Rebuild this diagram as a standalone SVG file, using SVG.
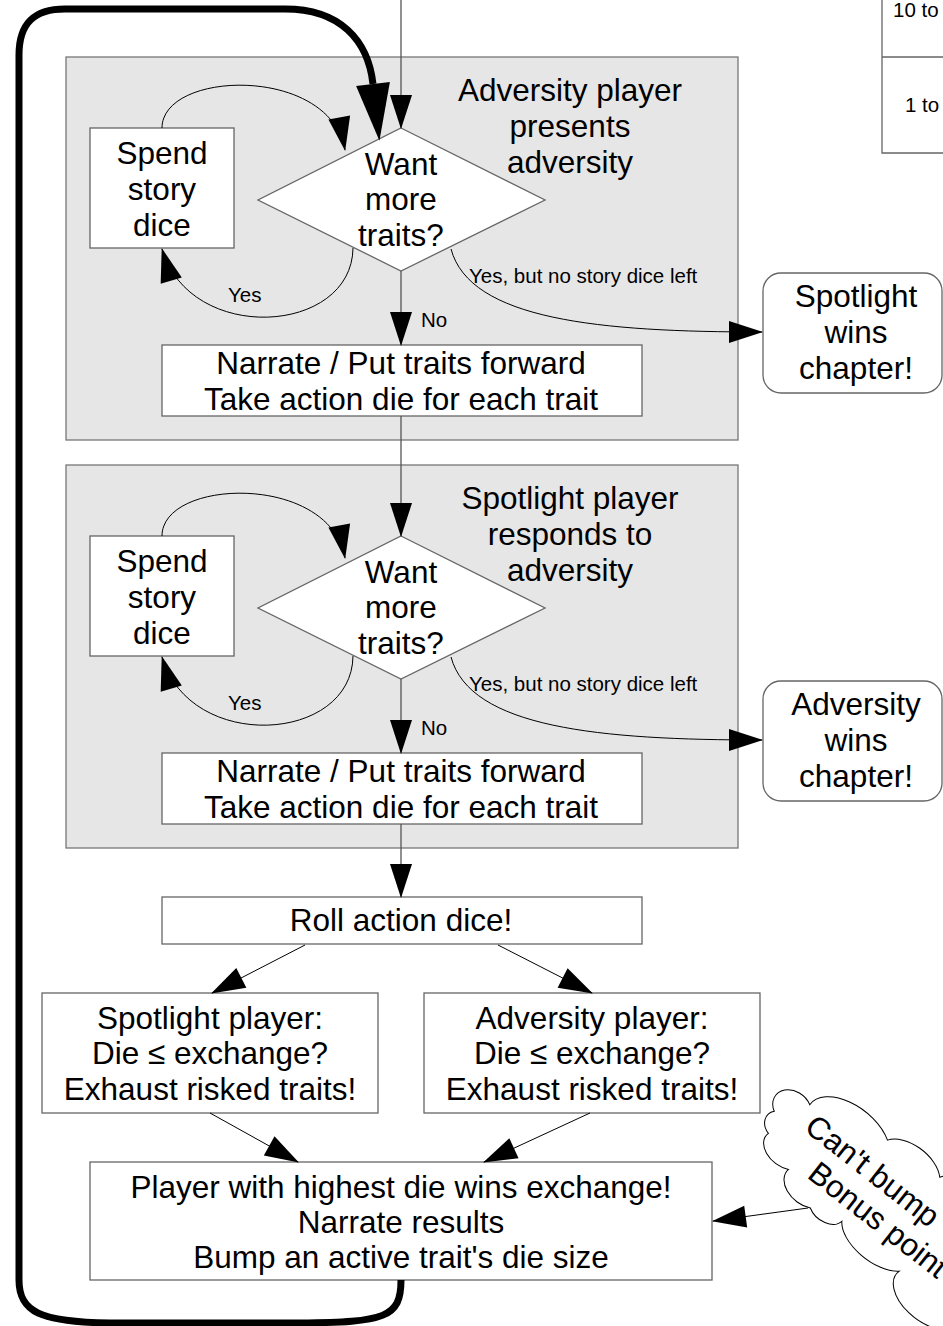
<svg xmlns="http://www.w3.org/2000/svg" width="943" height="1326" viewBox="0 0 943 1326">
<style>
.box{fill:#fff;stroke:#666;stroke-width:1.3}
.panel{fill:#e6e6e6;stroke:#777;stroke-width:1.3}
.t{font-family:"Liberation Sans",Arial,sans-serif;font-size:31.5px;text-anchor:middle;fill:#000}
.s{font-family:"Liberation Sans",Arial,sans-serif;font-size:20.5px;fill:#000}
.c{fill:none;stroke:#000;stroke-width:1}
.v{fill:none;stroke:#555;stroke-width:1.3}
.tab{fill:none;stroke:#666;stroke-width:1.3}
</style>
<defs>
<marker id="a" markerUnits="userSpaceOnUse" markerWidth="34" markerHeight="22" refX="33" refY="11" orient="auto" overflow="visible"><path d="M0,0 L34,11 L0,22 Z" fill="#000"/></marker>
<marker id="ab" markerUnits="userSpaceOnUse" markerWidth="56" markerHeight="34" refX="0" refY="17" orient="auto" overflow="visible"><path d="M0,0 L57,17 L0,34 Z" fill="#000"/></marker>
</defs>

<g id="table">
<path class="tab" d="M882,0 V153 H943 M882,57 H943"/>
<text class="s" x="893" y="17" font-size="20">10 to</text>
<text class="s" x="905" y="112" font-size="20">1 to</text>
</g>

<g id="panel1">
<rect class="panel" x="66" y="57" width="672" height="383"/>
<text class="t" x="570" y="101">Adversity player</text>
<text class="t" x="570" y="137">presents</text>
<text class="t" x="570" y="173">adversity</text>
</g>
<g id="spend1">
<rect class="box" x="90" y="128" width="144" height="120"/>
<text class="t" x="162" y="164">Spend</text>
<text class="t" x="162" y="200">story</text>
<text class="t" x="162" y="236">dice</text>
</g>
<g id="want1">
<polygon class="box" points="401,128 545,200 401,271 258,200"/>
<text class="t" x="401" y="175">Want</text>
<text class="t" x="401" y="210">more</text>
<text class="t" x="401" y="246">traits?</text>
</g>
<g id="narrate1">
<rect class="box" x="162" y="345" width="480" height="71"/>
<text class="t" x="401" y="374">Narrate / Put traits forward</text>
<text class="t" x="401" y="410">Take action die for each trait</text>
</g>
<g id="spotwins">
<rect class="box" x="763" y="273" width="179" height="120" rx="18"/>
<text class="t" x="856" y="307">Spotlight</text>
<text class="t" x="856" y="343">wins</text>
<text class="t" x="856" y="379">chapter!</text>
</g>

<g id="panel2">
<rect class="panel" x="66" y="465" width="672" height="383"/>
<text class="t" x="570" y="509">Spotlight player</text>
<text class="t" x="570" y="545">responds to</text>
<text class="t" x="570" y="581">adversity</text>
</g>
<g id="spend2">
<rect class="box" x="90" y="536" width="144" height="120"/>
<text class="t" x="162" y="572">Spend</text>
<text class="t" x="162" y="608">story</text>
<text class="t" x="162" y="644">dice</text>
</g>
<g id="want2">
<polygon class="box" points="401,536 545,608 401,679 258,608"/>
<text class="t" x="401" y="583">Want</text>
<text class="t" x="401" y="618">more</text>
<text class="t" x="401" y="654">traits?</text>
</g>
<g id="narrate2">
<rect class="box" x="162" y="753" width="480" height="71"/>
<text class="t" x="401" y="782">Narrate / Put traits forward</text>
<text class="t" x="401" y="818">Take action die for each trait</text>
</g>
<g id="advwins">
<rect class="box" x="763" y="681" width="179" height="120" rx="18"/>
<text class="t" x="856" y="715">Adversity</text>
<text class="t" x="856" y="751">wins</text>
<text class="t" x="856" y="787">chapter!</text>
</g>

<g id="roll">
<rect class="box" x="162" y="897" width="480" height="47"/>
<text class="t" x="401" y="931">Roll action dice!</text>
</g>
<g id="spotcheck">
<rect class="box" x="42" y="993" width="336" height="120"/>
<text class="t" x="210" y="1029">Spotlight player:</text>
<text class="t" x="210" y="1064">Die ≤ exchange?</text>
<text class="t" x="210" y="1100">Exhaust risked traits!</text>
</g>
<g id="advcheck">
<rect class="box" x="424" y="993" width="336" height="120"/>
<text class="t" x="592" y="1029">Adversity player:</text>
<text class="t" x="592" y="1064">Die ≤ exchange?</text>
<text class="t" x="592" y="1100">Exhaust risked traits!</text>
</g>
<g id="result">
<rect class="box" x="90" y="1162" width="622" height="118"/>
<text class="t" x="401" y="1198">Player with highest die wins exchange!</text>
<text class="t" x="401" y="1233">Narrate results</text>
<text class="t" x="401" y="1268">Bump an active trait's die size</text>
</g>
<g id="cloud">
<path transform="translate(870,1195) rotate(38)" fill="#fff" stroke="#000" stroke-width="1" d="M-118,14 A18,14 0 0,1 -127,-7 A20,16 0 0,1 -103,-34 A48,28 0 0,1 -20,-54 A36,22 0 0,1 44,-57 A50,28 0 0,1 140,-55 A50,28 0 0,1 230,-45 A40,40 0 0,1 250,40 A50,25 0 0,1 150,50 A35,20 0 0,1 70,42 A42,22 0 0,1 -6,38 A20,14 0 0,1 -39,47 A26,18 0 0,1 -80,30 A24,16 0 0,1 -118,14 Z"/>
<text class="t" style="text-anchor:start" transform="translate(803,1130) rotate(38)">Can't bump</text>
<text class="t" style="text-anchor:start" transform="translate(806,1177) rotate(38)">Bonus point</text>
</g>

<g id="connectors">
<path class="v" d="M401,0 V128" marker-end="url(#a)"/>
<path fill="none" stroke="#000" stroke-width="7" d="M401,1280 C401,1318 385,1322 300,1323 L110,1323 C40,1322 19,1312 19,1280 L19,55 C19,22 35,9 65,9 L285,9 C340,9 368,40 373,84" marker-end="url(#ab)"/>
<path class="c" d="M162,128 C162,70 330,65 345,150" marker-end="url(#a)"/>
<path class="c" d="M353,248 C352,335 190,345 162,249" marker-end="url(#a)"/>
<text class="s" x="228" y="302">Yes</text>
<path class="v" d="M401,271 V345" marker-end="url(#a)"/>
<text class="s" x="421" y="327">No</text>
<path class="c" d="M451,249 C470,320 600,332 762,332" marker-end="url(#a)"/>
<text class="s" x="469" y="283" font-size="21">Yes, but no story dice left</text>
<path class="v" d="M401,416 V536" marker-end="url(#a)"/>
<path class="c" d="M162,536 C162,478 330,473 345,558" marker-end="url(#a)"/>
<path class="c" d="M353,656 C352,743 190,753 162,657" marker-end="url(#a)"/>
<text class="s" x="228" y="710">Yes</text>
<path class="v" d="M401,679 V753" marker-end="url(#a)"/>
<text class="s" x="421" y="735">No</text>
<path class="c" d="M451,657 C470,728 600,740 762,740" marker-end="url(#a)"/>
<text class="s" x="469" y="691" font-size="21">Yes, but no story dice left</text>
<path class="v" d="M401,824 V897" marker-end="url(#a)"/>
<path class="c" d="M305,945 L212,993" marker-end="url(#a)"/>
<path class="c" d="M498,945 L592,993" marker-end="url(#a)"/>
<path class="c" d="M210,1113 L298,1162" marker-end="url(#a)"/>
<path class="c" d="M590,1113 L484,1162" marker-end="url(#a)"/>
<path class="c" d="M808,1208 L713,1221" marker-end="url(#a)"/>
</g>
</svg>
